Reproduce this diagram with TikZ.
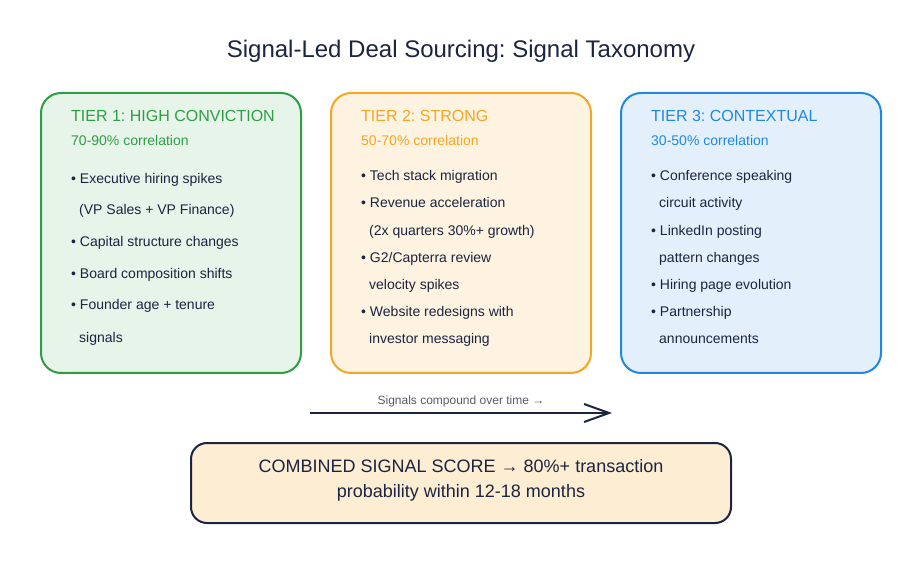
\documentclass[tikz,border=0pt]{standalone}
\usepackage{fontspec}
\setmainfont{Liberation Sans}
\usetikzlibrary{arrows.meta}
\frenchspacing
\definecolor{navy}{HTML}{1B2440}
\definecolor{gstroke}{HTML}{2E9E44}
\definecolor{gfill}{HTML}{E6F4EA}
\definecolor{ostroke}{HTML}{F5A623}
\definecolor{ofill}{HTML}{FEF3E0}
\definecolor{bstroke}{HTML}{2088E0}
\definecolor{bfill}{HTML}{E3F0FB}
\definecolor{cfill}{HTML}{FDEED3}
\definecolor{lblgray}{HTML}{555B66}
\tikzset{
  tierbox/.style={draw, line width=2pt, rounded corners=20pt},
  head/.style={anchor=base west, font=\fontsize{16}{19}\selectfont},
  corr/.style={anchor=base west, font=\fontsize{14}{17}\selectfont},
  item/.style={anchor=base west, font=\fontsize{14}{17}\selectfont, text=navy, inner sep=0pt},
}
\begin{document}
\begin{tikzpicture}[x=1pt,y=-1pt]
\useasboundingbox (0,0) rectangle (922,564);
\node[anchor=base, font=\fontsize{24}{28}\selectfont\frenchspacing, text=navy] (title) at (461,58) {Signal-Led Deal Sourcing: Signal Taxonomy};

% Tier boxes
\draw[tierbox, draw=gstroke, fill=gfill] (41,93) rectangle (301,373);
\draw[tierbox, draw=ostroke, fill=ofill] (331,93) rectangle (591,373);
\draw[tierbox, draw=bstroke, fill=bfill] (621,93) rectangle (881,373);

% Tier 1
\node[head, text=gstroke, inner sep=0pt] (h1) at (71,122) {TIER 1: HIGH CONVICTION};
\node[corr, text=gstroke, inner sep=0pt] (c1) at (71,146) {70-90\% correlation};
\node[item] (t1a) at (71,184) {• Executive hiring spikes};
\node[item] (t1b) at (79,215) {(VP Sales + VP Finance)};
\node[item] (t1c) at (71,247) {• Capital structure changes};
\node[item] (t1d) at (71,279) {• Board composition shifts};
\node[item] (t1e) at (71,310) {• Founder age + tenure};
\node[item] (t1f) at (79,342) {signals};

% Tier 2
\node[head, text=ostroke, inner sep=0pt] (h2) at (361,122) {TIER 2: STRONG};
\node[corr, text=ostroke, inner sep=0pt] (c2) at (361,146) {50-70\% correlation};
\node[item] (t2a) at (361,181) {• Tech stack migration};
\node[item] (t2b) at (361,208) {• Revenue acceleration};
\node[item] (t2c) at (369,236) {(2x quarters 30\%+ growth)};
\node[item] (t2d) at (361,263) {• G2/Capterra review};
\node[item] (t2e) at (369,290) {velocity spikes};
\node[item] (t2f) at (361,317) {• Website redesigns with};
\node[item] (t2g) at (369,344) {investor messaging};

% Tier 3
\node[head, text=bstroke, inner sep=0pt] (h3) at (651,122) {TIER 3: CONTEXTUAL};
\node[corr, text=bstroke, inner sep=0pt] (c3) at (651,146) {30-50\% correlation};
\node[item] (t3a) at (651,181) {• Conference speaking};
\node[item] (t3b) at (659,208) {circuit activity};
\node[item] (t3c) at (651,236) {• LinkedIn posting};
\node[item] (t3d) at (659,263) {pattern changes};
\node[item] (t3e) at (651,290) {• Hiring page evolution};
\node[item] (t3f) at (651,317) {• Partnership};
\node[item] (t3g) at (659,344) {announcements};

% Arrow
\coordinate (as) at (310,413);
\coordinate (ae) at (612,413);
\draw[navy, line width=2pt, -{Straight Barb[length=25pt,width=18pt,line width=2pt]}] (as) -- (ae);
\node[anchor=base, font=\fontsize{12}{14}\selectfont, text=lblgray, inner sep=0pt] (albl) at (461,404) {Signals compound over time →};

% Combined box
\draw[line width=2pt, draw=navy, fill=cfill, rounded corners=16pt] (191,443) rectangle (731,523);
\node[anchor=base, font=\fontsize{18}{22}\selectfont, text=navy, inner sep=0pt] (cs1) at (461,472) {COMBINED SIGNAL SCORE → 80\%+ transaction};
\node[anchor=base, font=\fontsize{18}{22}\selectfont, text=navy, inner sep=0pt] (cs2) at (461,497) {probability within 12-18 months};
\end{tikzpicture}
\end{document}
